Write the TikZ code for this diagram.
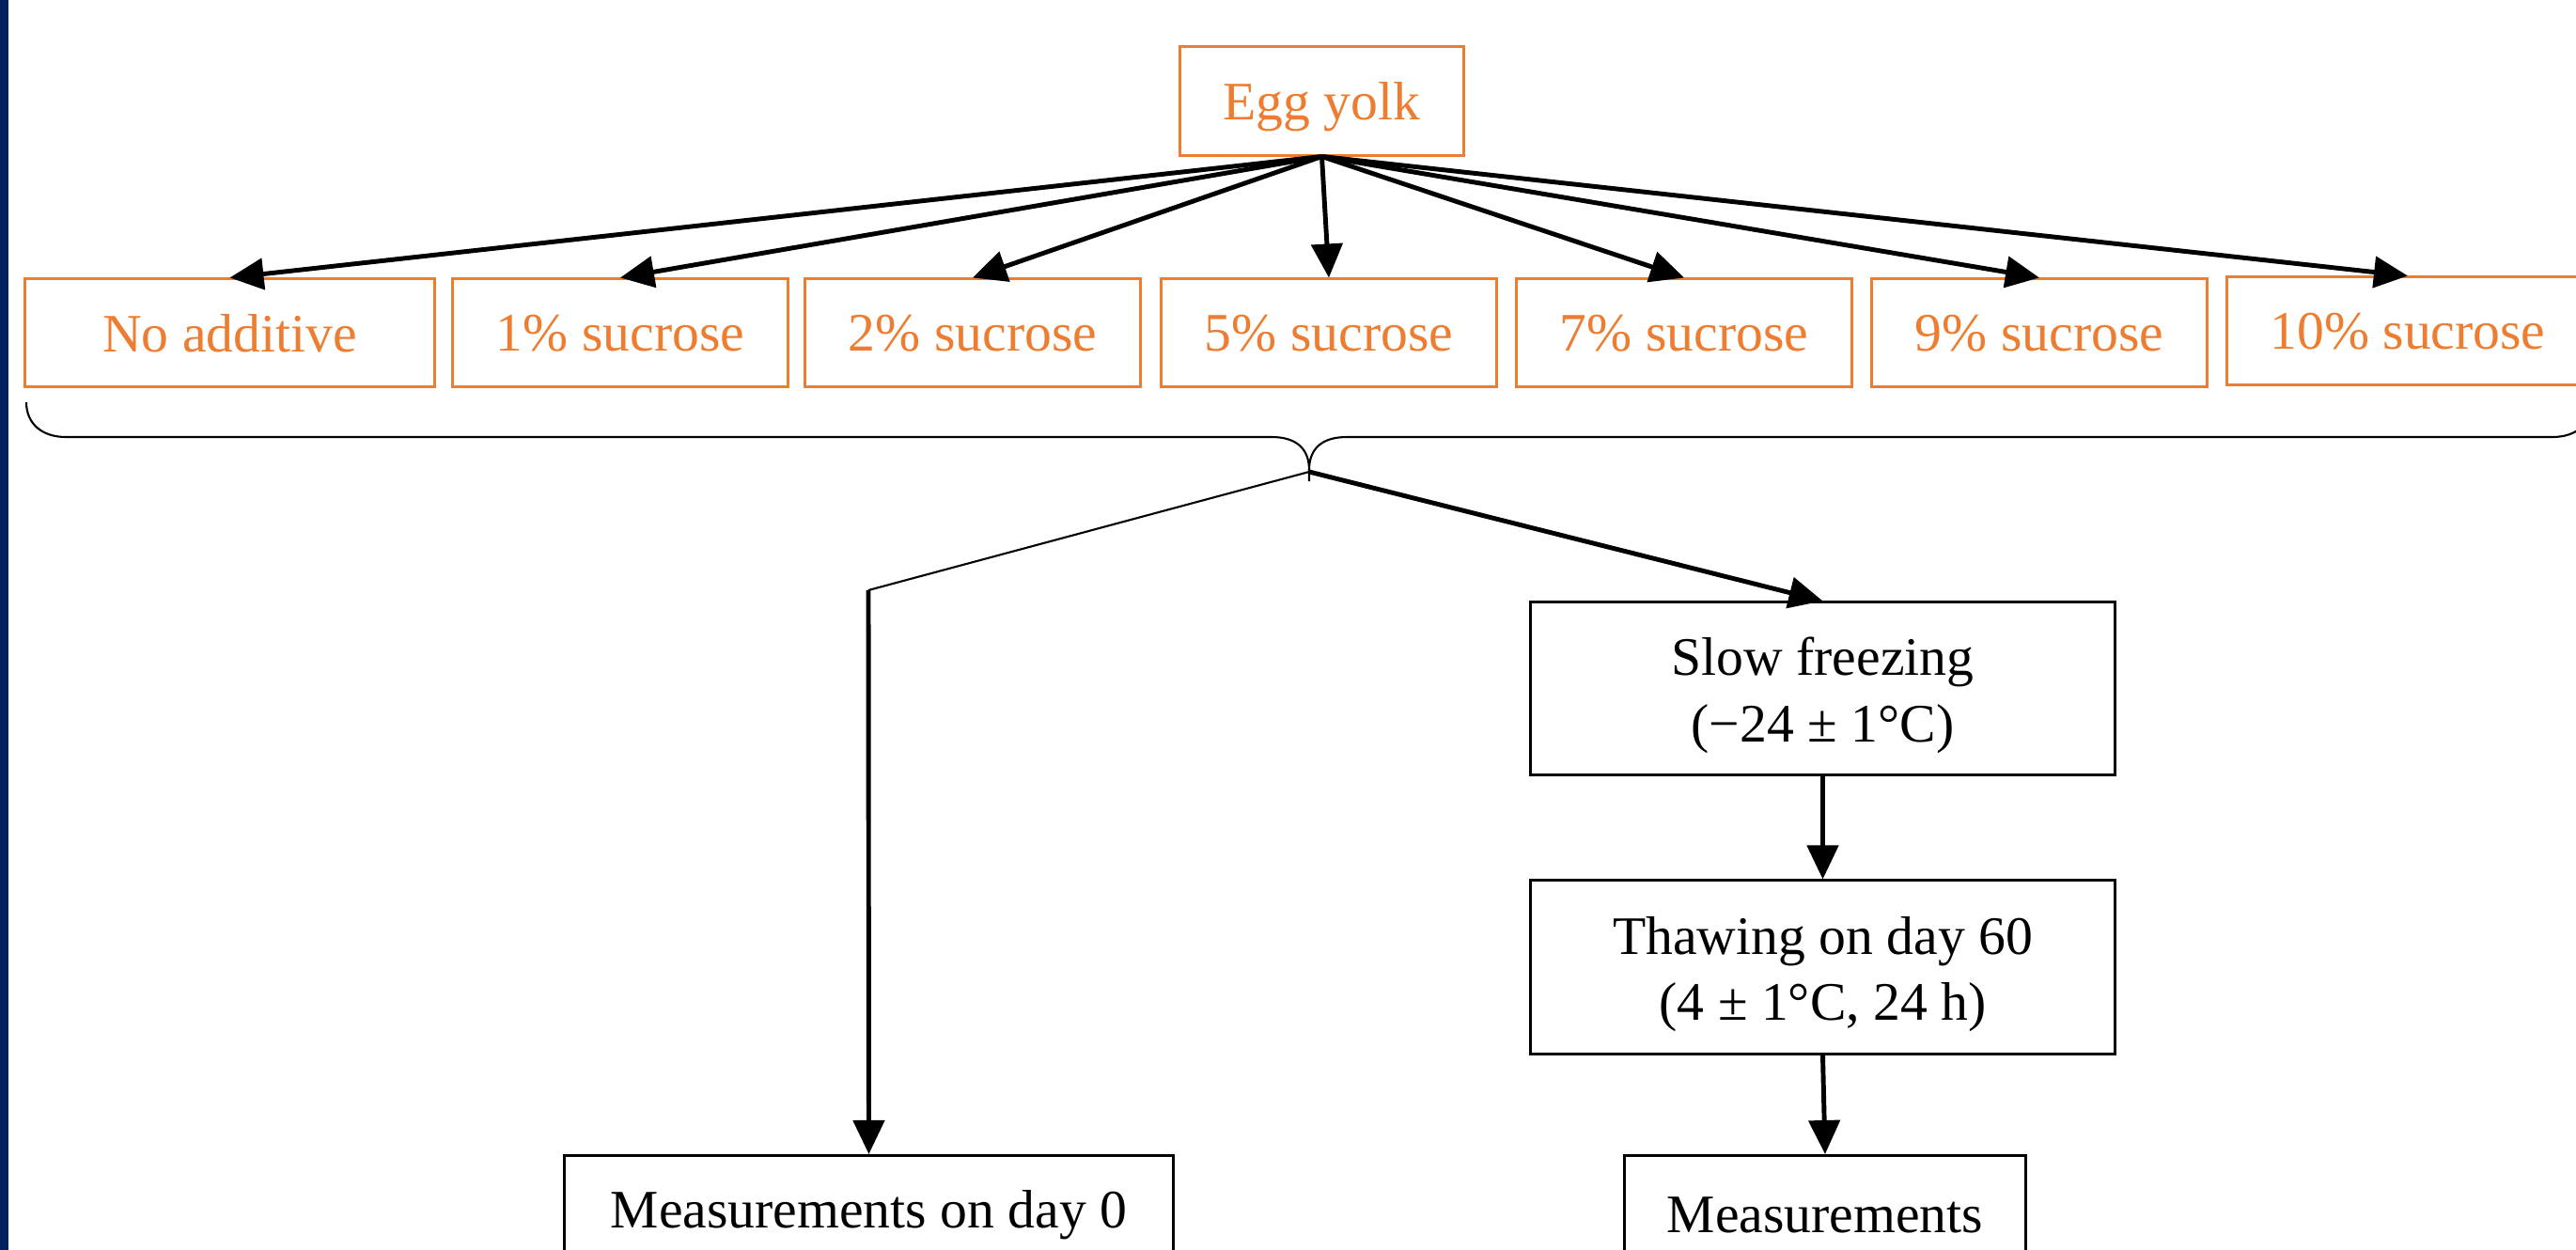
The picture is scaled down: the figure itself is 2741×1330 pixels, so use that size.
\documentclass[tikz,border=0pt]{standalone}
\usepackage{fontspec}
\setmainfont{Liberation Serif}
\usetikzlibrary{arrows.meta}
\definecolor{eggorange}{RGB}{237,125,49}
\definecolor{sidebar}{RGB}{0,32,96}

\begin{document}
\begin{tikzpicture}[x=0.01cm, y=-0.01cm,
        font=\fontsize{16.4}{20}\selectfont,
        additive/.style={draw=eggorange, text=eggorange, line width=0.85pt,
            minimum height=1.14cm, inner sep=0pt, text depth=0pt},
        process/.style={draw, line width=0.85pt, align=center, inner sep=0pt},
        twoline/.style={process, minimum width=6.21cm, text height=1.13cm, text depth=0pt},
        flow/.style={-{Triangle[length=0.36cm,width=0.33cm]}, line width=1.4pt}]
    \useasboundingbox[fill=white] (0,0) rectangle (2741,1330);
    \fill[sidebar] (0,0) rectangle (9,1330);

    % source and the seven treatments
    \node[additive, minimum width=3.01cm, minimum height=1.15cm] (yolk) at (1406.5,107.5) {Egg yolk};
    \node[additive, minimum width=4.35cm] (none) at (244.5,354) {No additive};
    \node[additive, minimum width=3.56cm] (suc1) at (660,354) {1\% sucrose};
    \node[additive, minimum width=3.56cm] (suc2) at (1035,354) {2\% sucrose};
    \node[additive, minimum width=3.56cm] (suc5) at (1414,354) {5\% sucrose};
    \node[additive, minimum width=3.56cm] (suc7) at (1792,354) {7\% sucrose};
    \node[additive, minimum width=3.56cm] (suc9) at (2170,354) {9\% sucrose};
    \node[additive, minimum width=3.84cm] (suc10) at (2562,352) {10\% sucrose};

    \draw[flow] (yolk.south) -- (none.north);
    \draw[flow] (yolk.south) -- (suc1.north);
    \draw[flow] (yolk.south) -- (suc2.north);
    \draw[flow] (yolk.south) -- (suc5.north);
    \draw[flow] (yolk.south) -- (suc7.north);
    \draw[flow] (yolk.south) -- (suc9.north);
    \draw[flow] (yolk.south) -- (suc10.north);

    % brace under the row
    \draw[line width=0.6pt] (28,428) .. controls (28,451) and (45,465) .. (70,465) -- (1353,465)
        .. controls (1380,465) and (1393,478) .. (1393,500) -- (1393,512);
    \draw[line width=0.6pt] (1393,500) .. controls (1393,478) and (1406,465) .. (1433,465) -- (2716,465)
        .. controls (2741,465) and (2758,451) .. (2758,428);
    \coordinate (fork) at (1393,502);
    \coordinate (bend) at (924,628);

    % storage branch
    \node[twoline, minimum height=1.83cm] (slow) at (1939.5,732.5)
        {Slow freezing\\(−24 ± 1°C)};
    \node[twoline, minimum height=1.84cm] (thaw) at (1939.5,1029)
        {Thawing on day 60\\(4 ± 1°C, 24 h)};
    \node[process, anchor=north, minimum width=4.26cm, minimum height=1.27cm] (meas) at (1942,1228)
        {Measurements};
    \node[process, anchor=north, minimum width=6.47cm, minimum height=1.27cm] (day0) at (924.5,1228)
        {Measurements on day 0};

    \draw[line width=0.6pt] (fork) -- (bend);
    \draw[flow] (bend) -- (day0.north);
    \draw[flow] (fork) -- (slow.north);
    \draw[flow] (slow.south) -- (thaw.north);
    \draw[flow] (thaw.south) -- (meas.north);
\end{tikzpicture}
\end{document}
